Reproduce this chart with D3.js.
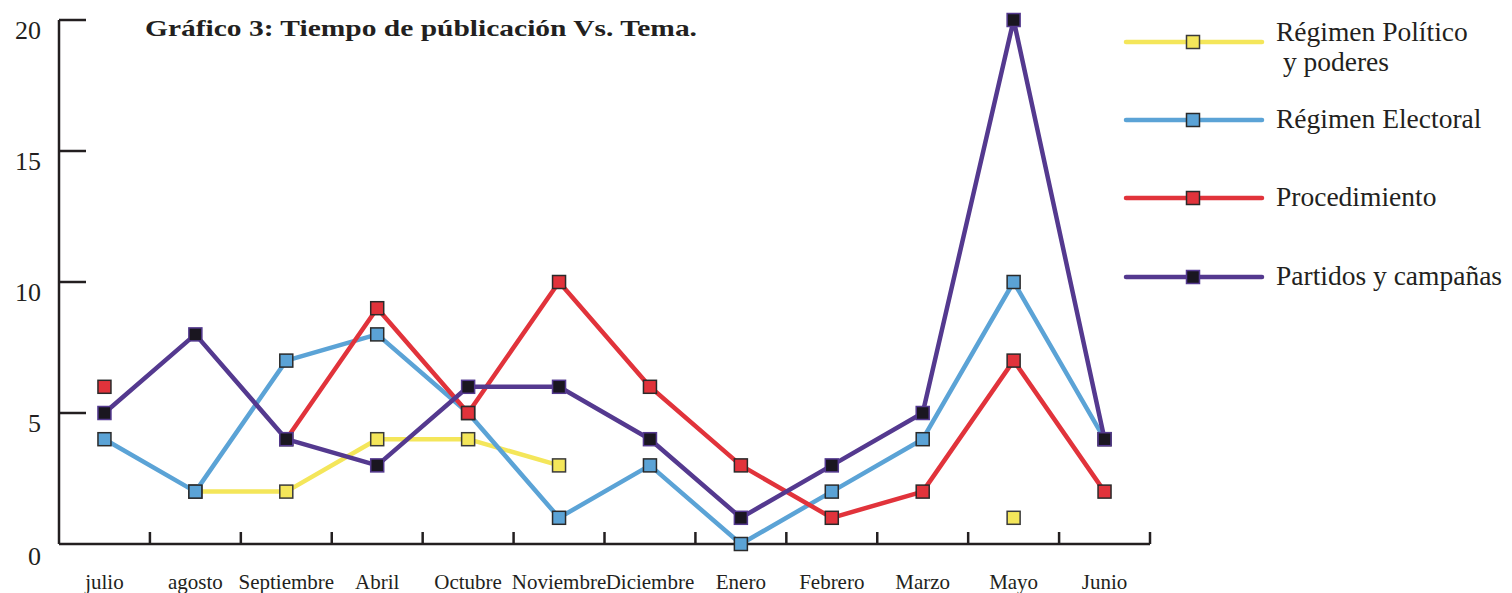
<!DOCTYPE html>
<html><head><meta charset="utf-8">
<script src="https://cdn.jsdelivr.net/npm/d3@7"></script>
<style>body{margin:0;background:#fff}svg{display:block}</style>
</head><body>
<svg id="c" width="1512" height="593"></svg>
<script>
const categories = ["julio","agosto","Septiembre","Abril","Octubre","Noviembre","Diciembre","Enero","Febrero","Marzo","Mayo","Junio"];
const yTicks = [0,5,10,15,20];
const seriesNames = ["Régimen Político\n y poderes","Régimen Electoral","Procedimiento","Partidos y campañas"];
const regimenPolitico   = [null,2,2,4,4,3,null,null,null,null,1,null];
const regimenElectoral  = [4,2,7,8,5,1,3,0,2,4,10,4];
const procedimiento     = [6,null,4,9,5,10,6,3,1,2,7,2];
const partidosCampanas  = [5,8,4,3,6,6,4,1,3,5,20,4];
const title = "Gráfico 3: Tiempo de públicación Vs. Tema.";

const lineColors = ["#f4e65a","#5ba3d6","#e1333b","#54398f"];
const markerFill = ["#f4e65a","#5ba3d6","#e1333b","#1a1620"];
const markerStroke = ["#3a3a3a","#2a2a2a","#2a2a2a","#54398f"];
const seriesData = [regimenPolitico, regimenElectoral, procedimiento, partidosCampanas];

const svg = d3.select("#c");
const font = "'Liberation Serif', serif";
const ink = "#231f20";

const x = d3.scaleBand().domain(categories).range([59,1150]);
const y = d3.scaleLinear().domain([0,20]).range([544,20]);
const cx = c => x(c) + x.bandwidth()/2;

// axes
const ax = svg.append("g").attr("stroke", ink).attr("stroke-width", 2.5).attr("fill","none");
ax.append("line").attr("x1",59).attr("x2",1150).attr("y1",y(0)).attr("y2",y(0));
ax.append("line").attr("x1",59).attr("x2",59).attr("y1",y(20)).attr("y2",y(0));
yTicks.forEach(t => {
  if (t > 0) ax.append("line").attr("x1",59).attr("x2",86).attr("y1",y(t)).attr("y2",y(t));
});
categories.forEach((c,i) => {
  const bx = x(c) + x.bandwidth();
  ax.append("line").attr("x1",bx).attr("x2",bx).attr("y1",y(0)).attr("y2",y(0)-12);
});

// y labels
svg.append("g").selectAll("text").data(yTicks).join("text")
  .attr("x", 41).attr("y", d => y(d) + (d===0 ? 21 : 19))
  .attr("text-anchor","end").attr("font-family",font).attr("font-size",26).attr("fill",ink)
  .text(d => d);

// x labels
svg.append("g").selectAll("text").data(categories).join("text")
  .attr("x", d => cx(d)).attr("y", 589)
  .attr("text-anchor","middle").attr("font-family",font).attr("font-size",21).attr("fill",ink)
  .text(d => d);

// title
svg.append("text").attr("x",145).attr("y",36).attr("font-family",font).attr("font-weight","bold")
  .attr("font-size",24).attr("fill",ink).attr("textLength",552).attr("lengthAdjust","spacingAndGlyphs")
  .text(title);

// series
const ms = 13;
seriesData.forEach((vals, si) => {
  const pts = categories.map((c,i) => ({c, v: vals[i]}));
  const line = d3.line().defined(d => d.v !== null).x(d => cx(d.c)).y(d => y(d.v));
  svg.append("path").attr("d", line(pts)).attr("fill","none")
    .attr("stroke", lineColors[si]).attr("stroke-width", 4.5).attr("stroke-linejoin","round");
  svg.append("g").selectAll("rect").data(pts.filter(d => d.v !== null)).join("rect")
    .attr("x", d => cx(d.c) - ms/2).attr("y", d => y(d.v) - ms/2)
    .attr("width", ms).attr("height", ms)
    .attr("fill", markerFill[si]).attr("stroke", markerStroke[si]).attr("stroke-width", 1.5);
});

// legend
const legY = [42,120,198,277];
const legDy = [-1,8,8,8];
const lg = svg.append("g");
seriesNames.forEach((name, i) => {
  lg.append("line").attr("x1",1126).attr("x2",1262).attr("y1",legY[i]).attr("y2",legY[i])
    .attr("stroke",lineColors[i]).attr("stroke-width",4.5).attr("stroke-linecap","round");
  lg.append("rect").attr("x",1193-ms/2).attr("y",legY[i]-ms/2).attr("width",ms).attr("height",ms)
    .attr("fill",markerFill[i]).attr("stroke",markerStroke[i]).attr("stroke-width",1.5);
  const lines = name.split("\n");
  const t = lg.append("text").attr("font-family",font).attr("font-size",27.5).attr("fill",ink);
  lines.forEach((ln, k) => {
    t.append("tspan").attr("x",1276).attr("y",legY[i] + legDy[i] + k*30).attr("xml:space","preserve").text(ln);
  });
});
</script>
</body></html>
